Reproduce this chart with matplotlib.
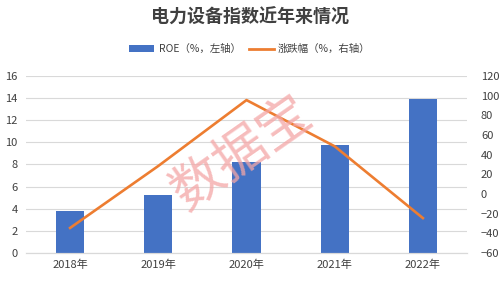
import matplotlib
matplotlib.use("Agg")
import matplotlib.pyplot as plt
from matplotlib.lines import Line2D
from matplotlib.patches import Patch

plt.rcParams['font.family'] = ['Noto Sans CJK SC', 'DejaVu Sans']

# --- DONNÉES ---
years = ['2018年', '2019年', '2020年', '2021年', '2022年']
roe = [3.8, 5.25, 8.25, 9.75, 13.9]
change = [-34.5, 28.5, 95.5, 48.5, -24.5]
left_ticks = [0, 2, 4, 6, 8, 10, 12, 14, 16]
right_ticks = [-60, -40, -20, 0, 20, 40, 60, 80, 100, 120]

fig = plt.figure(figsize=(5, 2.81), dpi=100)
ax = fig.add_axes([0.052, 0.0996, 0.882, 0.63])
ax2 = ax.twinx()

x = list(range(len(years)))
ax.bar(x, roe, width=0.32, color='#4472C4', zorder=2)
ax2.plot(x, change, color='#ED7D31', lw=1.9, zorder=3)

ax.set_xlim(-0.5, len(years) - 0.5)
ax.set_ylim(0, 16)
ax.set_yticks(left_ticks)
ax2.set_ylim(-60, 120)
ax2.set_yticks(right_ticks)
ax.set_xticks(x)
ax.set_xticklabels(years)

ax.grid(axis='y', color='#D9D9D9', lw=0.8, zorder=0)
ax.set_axisbelow(True)
for a in (ax, ax2):
    for s in ('top', 'left', 'right'):
        a.spines[s].set_visible(False)
    a.spines['bottom'].set_color('#D9D9D9')
    a.tick_params(length=0, labelsize=8, colors='#404040')
ax.tick_params(axis='x', pad=5)
ax.tick_params(axis='y', pad=6)
ax2.tick_params(axis='y', pad=10)

# filigrane
fig.text(0.485, 0.455, '数据宝', fontsize=38, color='#F4A6A6', alpha=0.75,
         rotation=35, ha='center', va='center', zorder=10)

fig.text(0.5, 0.94, '电力设备指数近年来情况', fontsize=13, fontweight='bold',
         color='#404040', ha='center', va='center')

handles = [Patch(facecolor='#4472C4'), Line2D([0], [0], color='#ED7D31', lw=2)]
fig.legend(handles, ['ROE（%，左轴）', '涨跌幅（%，右轴）'], loc='center',
           bbox_to_anchor=(0.5, 0.825), ncol=2, frameon=False, fontsize=7.5,
           handlelength=2.4, handleheight=0.6, columnspacing=0.8,
           handletextpad=0.4, labelcolor='#404040')

fig.savefig('out.png', dpi=100)
